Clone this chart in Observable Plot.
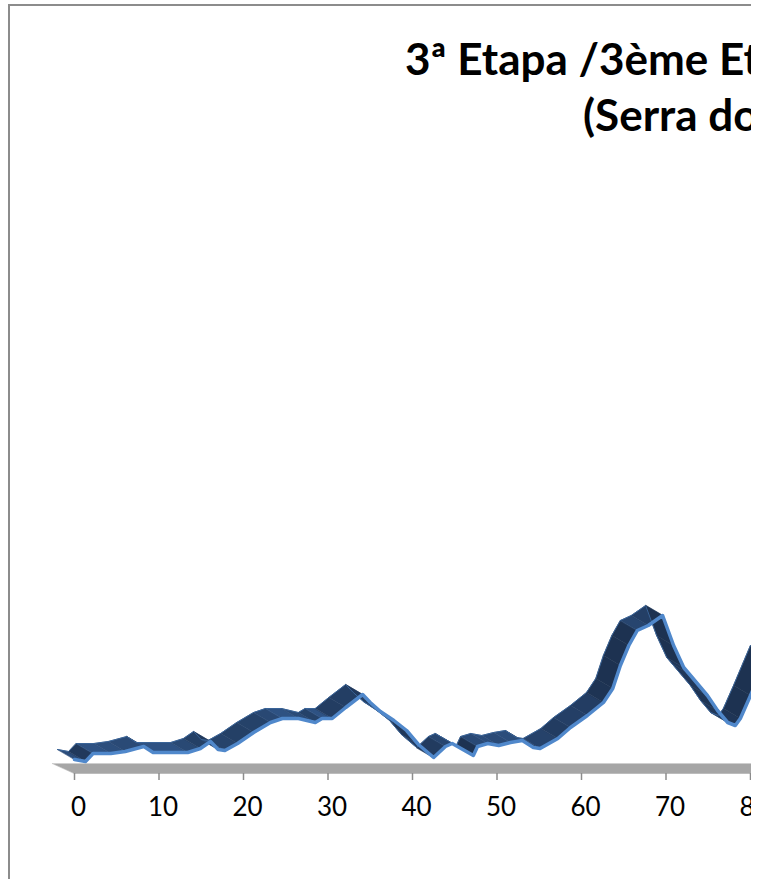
<!DOCTYPE html>
<html><head><meta charset="utf-8">
<script src="https://cdn.jsdelivr.net/npm/d3@7"></script>
<script src="https://cdn.jsdelivr.net/npm/@observablehq/plot@0.6"></script>
<style>
html,body{margin:0;padding:0;background:#fff;overflow:hidden;}
#clip{position:absolute;left:0;top:0;width:751px;height:879px;overflow:hidden;background:#fff;}
#chart{position:absolute;left:0;top:0;width:940px;}
#chart svg{max-width:none !important;}
.bl{position:absolute;background:#8c8c8c;}
.title{position:absolute;font-family:Lato,"Open Sans",sans-serif;font-weight:700;font-size:44px;letter-spacing:0px;white-space:nowrap;color:#000;line-height:44px;}
</style></head><body>
<div id="clip">
  <div id="chart"></div>
  <div class="bl" style="left:8px;top:4px;width:2px;height:875px"></div>
  <div class="bl" style="left:8px;top:4px;width:743px;height:2px"></div>
  <div class="title" id="t1" style="left:405px;top:36px"></div>
  <div class="title" id="t2" style="left:583px;top:92px"></div>
</div>
<script>
// ---- data ----
const distanceKm = [0,1.3,2.2,4.3,6.0,8.2,9.3,13.4,14.9,16.1,17.0,17.8,19.3,21.2,23.2,24.6,26.5,28.5,29.3,30.5,32.1,34.1,35.0,36.2,37.8,39.3,40.7,42.5,43.9,44.7,47.2,47.7,48.9,50.2,51.6,53.0,54.3,55.1,57.2,58.7,60.7,62.6,63.7,64.6,65.6,66.6,67.9,69.6,70.9,72.1,72.7,74.9,76.1,77.3,78.2,78.8,80.0,82.0];
const elevation  = [28,24,40,40,44,54,42,42,50,64,48,46,60,82,102,110,110,102,110,110,132,158,142,124,106,86,58,32,54,60,36,54,60,56,62,66,52,50,70,92,116,142,170,216,256,286,296,316,256,212,200,156,126,102,96,110,156,236];
const xTicks = [0,10,20,30,40,50,60,70,80,90,100];
const xDomain = [0,100];
const yDomain = [0,1500];
const titleLines = ["3ª Etapa /3ème Etape","(Serra do"];

document.getElementById("t1").textContent = titleLines[0];
document.getElementById("t2").textContent = titleLines[1];

// ---- layout ----
const W = 940, H = 879, mL = 74, mR = 21, mT = 23, mB = 106;
const kx = (W - mL - mR) / (xDomain[1] - xDomain[0]);   // px per km
const ky = (H - mT - mB) / (yDomain[1] - yDomain[0]);   // px per unit
// 3D depth offsets (pixels -> data units)
const DX = -17 / kx, DY = 10 / ky;
const FDX = -22 / kx, FDY = 10 / ky;

const pts = distanceKm.map((d, i) => ({x: d, y: elevation[i]}));
const flat = "#2e5283", steep = "#1d3251";
const quads = [];
for (let i = 0; i < pts.length - 1; i++) {
  const a = pts[i], b = pts[i + 1];
  const ang = Math.abs(Math.atan2((b.y - a.y) * ky, (b.x - a.x) * kx));
  const c = d3.interpolateRgb(flat, steep)(Math.min(1, ang / (Math.PI / 3)));
  quads.push({seg: i, x: a.x, y: a.y, c}, {seg: i, x: b.x, y: b.y, c},
             {seg: i, x: b.x + DX, y: b.y + DY, c}, {seg: i, x: a.x + DX, y: a.y + DY, c});
}
const floor = [
  {x: xDomain[0], y: yDomain[0]}, {x: xDomain[1], y: yDomain[0]},
  {x: xDomain[1] + FDX, y: yDomain[0] + FDY}, {x: xDomain[0] + FDX, y: yDomain[0] + FDY}
];
const floorBack = [floor[3], floor[2]];

const chart = Plot.plot({
  width: W, height: H, marginLeft: mL, marginRight: mR, marginTop: mT, marginBottom: mB,
  x: {domain: xDomain, axis: null},
  y: {domain: yDomain, axis: null},
  color: {type: "identity"},
  style: {fontFamily: "Lato, 'Open Sans', sans-serif", background: "transparent", overflow: "visible", maxWidth: "none"},
  marks: [
    Plot.line(floor, {x: "x", y: "y", fill: "#a6a6a6", stroke: "#a6a6a6", strokeWidth: 0.5, curve: "linear-closed"}),
    Plot.line(floorBack, {x: "x", y: "y", stroke: "#cfcfcf", strokeWidth: 1.2}),
    Plot.axisX({ticks: xTicks, tickSize: 7, tickFormat: () => "", label: null, stroke: "#8c8c8c", strokeWidth: 1.5, anchor: "bottom"}),
    Plot.axisX({ticks: xTicks, tickSize: 0, tickPadding: 24, dx: 4, fontSize: 26, fill: "#000", label: null, anchor: "bottom"}),
    Plot.line(quads, {x: "x", y: "y", z: "seg", fill: "c", stroke: "c", strokeWidth: 0.6, curve: "linear-closed"}),
    Plot.line(pts, {x: "x", y: "y", dx: -17, dy: -10, stroke: "#3a6498", strokeWidth: 1}),
    Plot.line(pts, {x: "x", y: "y", stroke: "#5088cb", strokeWidth: 3.5, strokeLinejoin: "round"})
  ]
});
chart.style.maxWidth = "none";
document.getElementById("chart").appendChild(chart);
</script>
</body></html>
